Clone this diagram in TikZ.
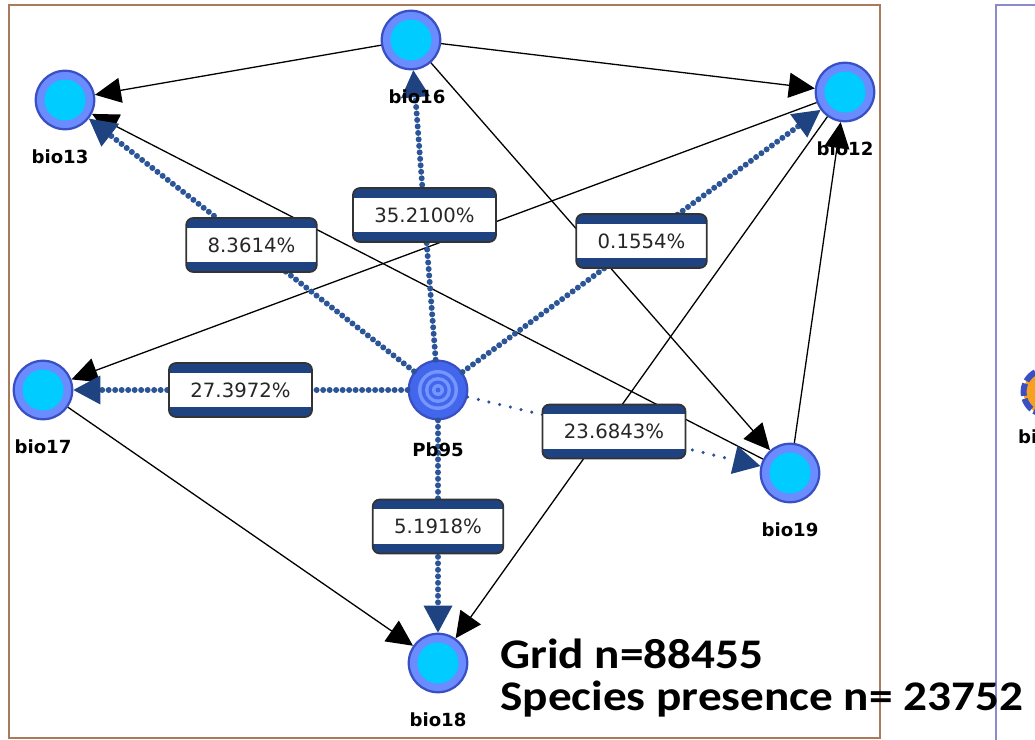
\documentclass[tikz,border=0pt]{standalone}
\usepackage{fontspec}
\usepackage{tikz}
\usetikzlibrary{arrows.meta,positioning}
\newfontfamily\guifont{DejaVu Sans}
\newfontfamily\notefont{Carlito}
\definecolor{cCyan}{RGB}{0,204,255}
\definecolor{cRing}{RGB}{106,140,255}
\definecolor{cRingEdge}{RGB}{59,79,196}
\definecolor{cPbA}{RGB}{66,102,236}
\definecolor{cPbB}{RGB}{118,150,255}
\definecolor{cDot}{RGB}{43,85,151}
\definecolor{cNavy}{RGB}{31,66,128}
\definecolor{cFrame}{RGB}{169,123,91}
\definecolor{cFrameB}{RGB}{138,138,207}
\definecolor{cOrange}{RGB}{245,160,30}

\begin{document}
\begin{tikzpicture}[
  x=0.02cm, y=-0.02cm,
  bionode/.style={
    circle, draw=cRingEdge, fill=cRing, line width=0.045cm,
    minimum size=1.17cm, inner sep=0pt,
    path picture={\fill[cCyan] (path picture bounding box.center) circle (0.41cm);}
  },
  pbnode/.style={
    circle, draw=cRingEdge, fill=cPbA, line width=0.045cm,
    minimum size=1.17cm, inner sep=0pt,
    path picture={
      \foreach \r/\c in {0.40/cPbB, 0.33/cPbA, 0.26/cPbB, 0.19/cPbA, 0.12/cPbB, 0.05/cPbA}
        \fill[\c] (path picture bounding box.center) circle (\r cm);
    }
  },
  nlbl/.style={font=\guifont\bfseries\fontsize{10.3}{12}\selectfont, inner sep=1pt},
  pct/.style={
    rectangle, rounded corners=0.14cm, solid, draw=black!80, line width=0.035cm,
    fill=white, inner xsep=0.43cm, minimum height=1.08cm, text=black!85,
    font=\guifont\fontsize{11.2}{13}\selectfont,
    path picture={
      \fill[cNavy, sharp corners] (path picture bounding box.north west)
        rectangle ([yshift=-0.19cm]path picture bounding box.north east);
      \fill[cNavy, sharp corners] (path picture bounding box.south west)
        rectangle ([yshift=0.19cm]path picture bounding box.south east);
    }
  },
  blk/.style={draw=black, line width=0.026cm, -{Triangle[length=0.52cm, width=0.5cm]}},
  dotlink/.style={
    draw=cDot, line width=0.12cm, dash pattern=on 0pt off 0.13cm, line cap=round,
    -{Triangle[length=0.54cm, width=0.58cm, color=cNavy, line width=0pt]}
  },
  dotthin/.style={dotlink, line width=0.07cm, dash pattern=on 0pt off 0.22cm},
  note/.style={font=\notefont\bfseries\fontsize{24}{28}\selectfont, inner sep=0pt}
]

\useasboundingbox (0,0) rectangle (1035,740);
\clip (0,0) rectangle (1035,740);

% Frames
\draw[cFrame, line width=0.04cm] (9,5) rectangle (880,738);
\draw[cFrameB, line width=0.03cm] (996,745) |- (1040,5);

% Nodes
\node[bionode] (b16) at (411,40) {};
\node[bionode] (b13) at (65,100) {};
\node[bionode] (b12) at (845,92) {};
\node[bionode] (b17) at (43,390) {};
\node[pbnode]  (pb)  at (438,390) {};
\node[bionode] (b19) at (790,473) {};
\node[bionode] (b18) at (438,663) {};
\node[circle, draw=cRingEdge, fill=cOrange, line width=0.12cm,
  dash pattern=on 0.25cm off 0.06cm, minimum size=0.9cm] (bx) at (1046,392) {};

% Plain links
\draw[blk] (b16) -- (b13);
\draw[blk] (b16) -- (b12);
\draw[blk] (b16) -- (b19);
\draw[blk] (b12) -- (b17);
\draw[blk] (b12) -- (b18);
\draw[blk] (b19) -- (b12);
\draw[blk] (b19) -- (b13);
\draw[blk] (b17) -- (b18);

% Links from Pb95
\draw[dotlink] (pb) -- node[pct] (l13) {8.3614\%} (b13);
\draw[dotlink] (pb) -- node[pct] (l16) {35.2100\%} (b16);
\draw[dotlink] (pb) -- node[pct] (l12) {0.1554\%} (b12);
\draw[dotlink] (pb) -- node[pct] (l17) {27.3972\%} (b17);
\draw[dotthin] (pb) -- node[pct] (l19) {23.6843\%} (b19);
\draw[dotlink] (pb) -- node[pct] (l18) {5.1918\%} (b18);

% Node names
\node[nlbl, below=0.34cm of b13, xshift=-0.1cm] (t13) {bio13};
\node[nlbl, below=0.34cm of b16, xshift=0.12cm] (t16) {bio16};
\node[nlbl, below=0.34cm of b12] (t12) {bio12};
\node[nlbl, below=0.34cm of b17] (t17) {bio17};
\node[nlbl, below=0.4cm of pb] (tpb) {Pb95};
\node[nlbl, below=0.34cm of b19] (t19) {bio19};
\node[nlbl, below=0.34cm of b18] (t18) {bio18};
\node[nlbl, anchor=north west] (tbx) at (1016,428) {bi};

% Sample sizes
\node[note, anchor=base west] (grid) at (500,668) {\scalebox{1.12}[1]{Grid n=88455}};
\node[note, anchor=base west] (spec) at (500,710) {\scalebox{1.12}[1]{Species presence n= 23752}};

\end{tikzpicture}
\end{document}
